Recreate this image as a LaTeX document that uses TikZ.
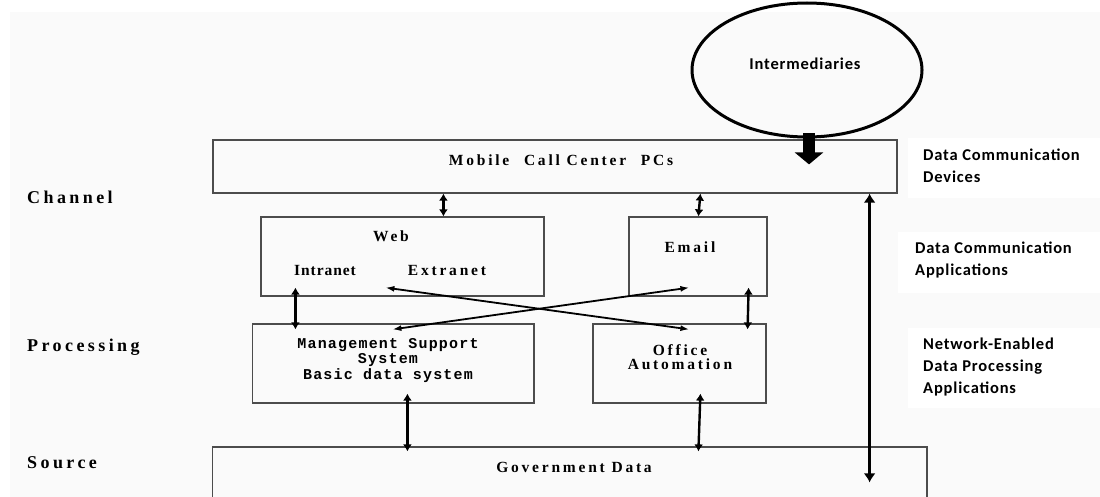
\documentclass[tikz,border=0pt]{standalone}
\usepackage{fontspec}
\usetikzlibrary{arrows.meta,shapes.geometric,calc}
% Letter-spaced bold faces for the box captions and layer names
\newfontfamily\boxfont[LetterSpace=18,UprightFont={* Bold}]{Liberation Serif}
\newfontfamily\tightfont[LetterSpace=6,UprightFont={* Bold}]{Liberation Serif}
\newfontfamily\layerfont[LetterSpace=19,UprightFont={* Bold}]{Liberation Serif}
\newfontfamily\mssfont[LetterSpace=8,UprightFont={* Bold}]{Liberation Mono}
\newfontfamily\notefont[LetterSpace=5,UprightFont={* Bold}]{Carlito}
\begin{document}
\begin{tikzpicture}[x=1pt,y=-1pt,
  frame/.style={draw=black!70, line width=1.2pt, inner sep=0pt},
  boxtext/.style={font=\boxfont\fontsize{15.5}{14}\selectfont, inner sep=0pt, align=center},
  msstext/.style={font=\mssfont\fontsize{15}{15.5}\selectfont, inner sep=0pt, align=center},
  layer/.style={font=\layerfont\fontsize{18}{18}\selectfont, anchor=west, inner sep=0pt},
  note/.style={font=\notefont\fontsize{16.5}{22}\selectfont, anchor=west, align=left, inner sep=0pt},
  link/.style={line width=2.4pt, {Latex[length=7pt,width=9pt]}-{Latex[length=7pt,width=9pt]}},
  crosslink/.style={line width=1.8pt, {Latex[length=9pt,width=6pt]}-{Latex[length=9pt,width=6pt]}},
  longlink/.style={line width=3pt, {Latex[length=9pt,width=12pt]}-{Latex[length=9pt,width=12pt]}},
  bigarrow/.style={line width=12pt, -{Triangle[length=12pt,width=28pt]}}
]
\useasboundingbox (0,0) rectangle (1100,497);
\clip (0,0) rectangle (1100,497);

% page and panel background
\fill[white] (0,0) rectangle (1100,497);
\fill[black!2] (10,12) rectangle (1100,497);

% white panels behind the side notes
\fill[white] (908,138) rectangle (1100,198);
\fill[white] (898,232) rectangle (1100,293);
\fill[white] (908,328) rectangle (1100,408);

% layer names
\node[layer] (channel) at (27,197) {Channel};
\node[layer] (processing) at (27,347) {Processing};
\node[layer] (source) at (27,463) {Source};

% side notes
\node[note] (devices) at (923,166) {Data Communication\\Devices};
\node[note] (apps) at (915,260) {Data Communication\\Applications};
\node[note] (netapps) at (923,367) {Network-Enabled\\Data Processing\\Applications};

% boxes
\node[frame, minimum width=684pt, minimum height=53pt] (mob) at (555,166.5) {};
\node[frame, minimum width=283pt, minimum height=79pt] (web) at (402.5,256.5) {};
\node[frame, minimum width=138pt, minimum height=79pt] (email) at (698,256.5) {};
\node[frame, minimum width=281.5pt, minimum height=79pt] (mss) at (393.25,363.5) {};
\node[frame, minimum width=173pt, minimum height=79pt] (office) at (679.5,363.5) {};
\node[frame, minimum width=714.4pt, minimum height=68pt] (gov) at (569.8,481) {};
\node[draw=black, line width=3pt, ellipse, minimum width=230pt, minimum height=134pt, inner sep=0pt] (im) at (807,70) {};

% box captions
\node[boxtext] (mobtxt) at (561,160) {Mobile\hspace{8pt} Call Center\hspace{8pt} PCs};
\node[boxtext] (webtxt) at (391,236) {Web};
\node[boxtext, font=\tightfont\fontsize{15.5}{14}\selectfont] (intra) at (325,271) {Intranet};
\node[boxtext] (extra) at (447,271) {Extranet};
\node[boxtext] (emailtxt) at (690,247) {Email};
\node[boxtext] (offtxt) at (680,357.5) {Office\\Automation};
\node[msstext] (msstxt) at (388,360.5) {Management Support\\System\\Basic data system};
\node[boxtext] (govtxt) at (574,467) {Government Data};
\node[font=\notefont\fontsize{16.5}{16}\selectfont, inner sep=0pt] (imtxt) at (805,64) {Intermediaries};

% connectors
\draw[bigarrow] ($(im.south)+(2,-5)$) -- ($(im.south |- mob.north)+(2,25)$);
\draw[link] ($(mob.south west)+(231,0)$) -- ($(web.north west)+(183,0)$);
\draw[link] ($(mob.south west)+(488,0)$) -- ($(email.north west)+(70,0)$);
\draw[link] ($(web.south west)+(35,-9)$) -- ($(mss.north west)+(43.5,6)$);
\draw[link] ($(email.south east)+(-19,-9)$) -- ($(office.north east)+(-19,6)$);
\draw[link] ($(mss.south west)+(155.5,-10)$) -- ($(gov.north west)+(195.4,5)$);
\draw[link] ($(office.south west)+(108,-10)$) -- ($(gov.north west)+(486.4,5)$);
\draw[crosslink] ($(web.south west)+(125,-9)$) -- ($(office.north west)+(97,6)$);
\draw[crosslink] ($(mss.north west)+(140.5,6)$) -- ($(email.south west)+(61,-9)$);
\draw[longlink] ($(mob.south east)+(-28,0)$) -- ($(gov.north east)+(-58,36)$);
\end{tikzpicture}
\end{document}
